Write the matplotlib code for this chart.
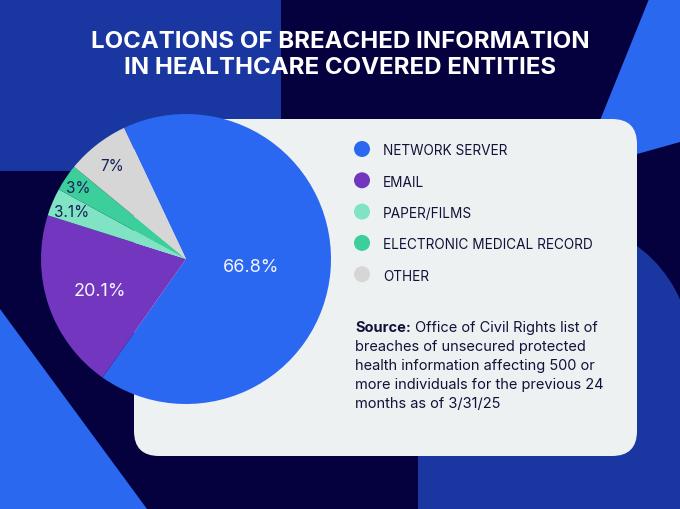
import matplotlib
matplotlib.use('Agg')
import matplotlib.pyplot as plt
from matplotlib.patches import Rectangle, Polygon, Circle, FancyBboxPatch
import numpy as np

# chart data
categories = ['NETWORK SERVER', 'EMAIL', 'PAPER/FILMS', 'ELECTRONIC MEDICAL RECORD', 'OTHER']
shares = [66.8, 20.1, 3.1, 3.0, 7.0]
pct_labels = ['66.8%', '20.1%', '3.1%', '3%', '7%']
slice_colors = ['#2b68f1', '#7336bf', '#7fe3c4', '#3dcf9b', '#d6d6d6']
label_colors = ['#f4f4ff', '#f4f4ff', '#16205a', '#16205a', '#16205a']
title_lines = ['LOCATIONS OF BREACHED INFORMATION', 'IN HEALTHCARE COVERED ENTITIES']
source_head = 'Source:'
source_lines = ['Office of Civil Rights list of',
                'breaches of unsecured protected',
                'health information affecting 500 or',
                'more individuals for the previous 24',
                'months as of 3/31/25']

NAVY = '#05003e'
MID_BLUE = '#1a37a1'
BRIGHT_BLUE = '#2a68f0'
CARD = '#eef1f1'
INK = '#13113a'

plt.rcParams['font.family'] = ['Inter', 'DejaVu Sans']

W, H = 680, 510
fig = plt.figure(figsize=(W / 100, H / 100), dpi=100, facecolor=NAVY)

# background layer in pixel coordinates
bg = fig.add_axes([0, 0, 1, 1])
bg.set_xlim(0, W)
bg.set_ylim(H, 0)
bg.axis('off')

bg.add_patch(Rectangle((0, 0), 281, 172, color=MID_BLUE, lw=0))
bg.add_patch(Polygon([(649, 0), (680, 0), (680, 143), (580, 171)], color=BRIGHT_BLUE, lw=0))
bg.add_patch(Polygon([(0, 310), (147, 510), (0, 510)], color=BRIGHT_BLUE, lw=0))
bg.add_patch(Circle((560, 353), 131, color=MID_BLUE, lw=0))
bg.add_patch(Rectangle((418, 353), 262, 157, color=MID_BLUE, lw=0))
bg.add_patch(FancyBboxPatch((134, 120), 503, 337, boxstyle='round,pad=0,rounding_size=25',
                            color=CARD, lw=0))

# title
for i, line in enumerate(title_lines):
    bg.text(340, 40 + i * 25, line, ha='center', va='center_baseline', color='white',
            fontsize=17.3, fontweight='bold')

# legend
for i, (name, col) in enumerate(zip(categories, slice_colors)):
    y = 150 + i * 31.3
    bg.add_patch(Circle((362, y), 8, color=col, lw=0))
    bg.text(383, y, name, va='center_baseline', ha='left', color=INK, fontsize=9.8)

# source note
head = bg.text(355, 327, source_head, va='center_baseline', ha='left', color=INK,
               fontsize=10.5, fontweight='bold')
bg.annotate(source_lines[0], xy=(1, 0.5), xycoords=head, xytext=(3, 0),
            textcoords='offset points', va='center', ha='left', color=INK, fontsize=10.5)
for i, line in enumerate(source_lines[1:], start=1):
    bg.text(355, 327 + i * 19, line, va='center_baseline', ha='left', color=INK,
            fontsize=10.5)

# pie
cx, cy, r = 186, 260, 145
pax = fig.add_axes([(cx - r) / W, (H - cy - r) / H, 2 * r / W, 2 * r / H])
wedges, _ = pax.pie(shares, colors=slice_colors, startangle=115.3, counterclock=False,
                    wedgeprops=dict(linewidth=0))
pax.set_xlim(-1, 1)
pax.set_ylim(-1, 1)
pax.set_aspect('equal')
pax.axis('off')

label_dist = [0.45, 0.63, 0.86, 0.90, 0.83]
for w, txt, col, d in zip(wedges, pct_labels, label_colors, label_dist):
    ang = np.deg2rad((w.theta1 + w.theta2) / 2)
    fs = 13 if col != '#16205a' else 11
    pax.text(d * np.cos(ang), d * np.sin(ang), txt, ha='center', va='center_baseline',
             color=col, fontsize=fs)

fig.savefig('out.png', dpi=100, facecolor=NAVY)
